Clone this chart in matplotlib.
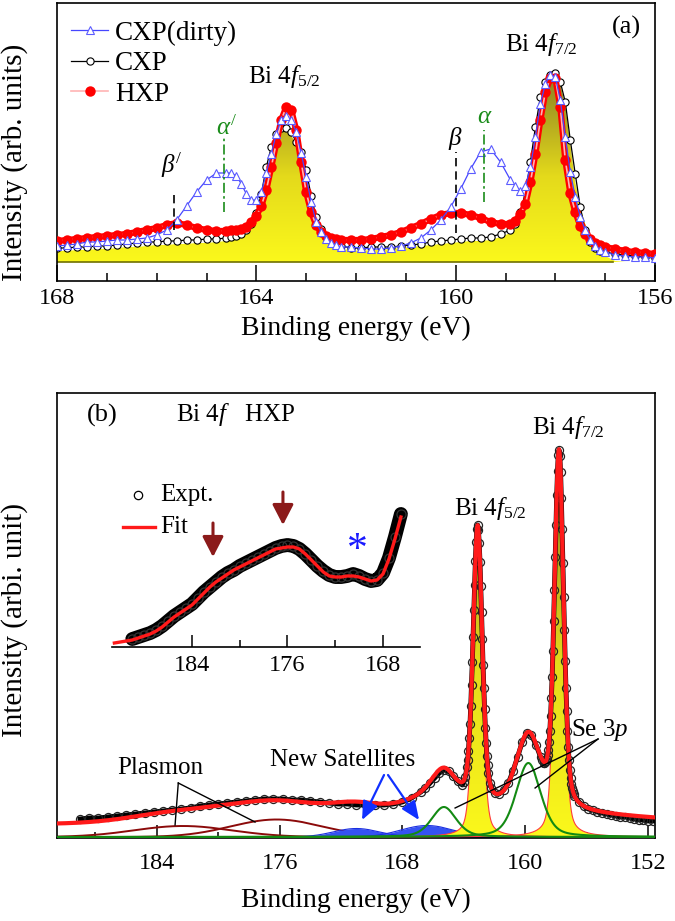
import numpy as np
import matplotlib
matplotlib.use("Agg")
import matplotlib.pyplot as plt
from matplotlib.colors import LinearSegmentedColormap
from matplotlib.patches import Polygon
from matplotlib.ticker import FixedLocator

plt.rcParams['font.family'] = ['Liberation Serif', 'DejaVu Serif']
plt.rcParams['mathtext.fontset'] = 'custom'
plt.rcParams['mathtext.rm'] = 'Liberation Serif'
plt.rcParams['mathtext.it'] = 'Liberation Serif:italic'
plt.rcParams['mathtext.bf'] = 'Liberation Serif:bold'

# ---------------- panel (a) data : Bi 4f, three samples ----------------
energy_a = [168.0, 167.8, 167.6, 167.4, 167.2, 167.0, 166.8, 166.6, 166.4, 166.2, 166.0, 165.8, 165.6, 165.4,
            165.2, 165.0, 164.8, 164.6,
            164.5, 164.4, 164.3, 164.2, 164.1, 164.0, 163.9, 163.8, 163.7, 163.6, 163.5, 163.4, 163.3, 163.2,
            163.1, 163.0, 162.9, 162.8, 162.7, 162.6, 162.5, 162.4, 162.3,
            162.1, 161.9, 161.7, 161.5, 161.3, 161.1, 160.9, 160.7, 160.5, 160.3, 160.1, 159.9, 159.7, 159.5,
            159.3, 159.1, 158.9,
            158.8, 158.7, 158.6, 158.5, 158.4, 158.3, 158.2, 158.1, 158.0, 157.9, 157.8, 157.7, 157.6, 157.5,
            157.4, 157.3, 157.2, 157.1, 157.0,
            156.8, 156.6, 156.4, 156.2, 156.0]
cxp_dirty = [16, 17, 18, 20, 20, 21, 22, 22, 23, 24, 27, 32, 42, 56, 70, 82, 89, 89,
             89, 86, 78, 68, 62, 62, 70, 89, 108, 128, 142, 146, 142, 130, 109, 85, 60, 40, 30, 23, 19, 17, 15,
             15, 14, 13, 13, 14, 16, 19, 24, 32, 42, 55, 73, 93, 110, 113, 100, 82,
             76, 71, 76, 95, 125, 158, 178, 187, 185, 162, 125, 90, 65, 45, 32, 22, 16, 12, 10,
             7, 6, 5, 5, 4]
cxp = [14, 14, 15, 15, 16, 16, 17, 18, 19, 20, 20, 21, 21, 22, 22, 23, 23, 24,
       25, 26, 28, 32, 38, 49, 68, 95, 115, 128, 134, 134, 130, 120, 110, 92, 66, 45, 33, 25, 21, 18, 16,
       14, 14, 15, 15, 15, 16, 17, 18, 20, 21, 22, 23, 24, 24, 25, 28, 32,
       38, 50, 70, 100, 135, 165, 180, 187, 189, 180, 160, 122, 88, 55, 32, 20, 14, 11, 10,
       8, 7, 6, 5, 4]
hxp = [21, 22, 23, 24, 25, 26, 27, 28, 30, 32, 34, 37, 39, 37, 34, 32, 31, 31,
       32, 32, 33, 35, 40, 46, 56, 72, 95, 119, 142, 155, 152, 132, 100, 70, 50, 37, 30, 26, 24, 23, 22,
       22, 22, 23, 25, 27, 30, 34, 38, 43, 47, 49, 49, 47, 44, 40, 38, 38,
       41, 48, 58, 80, 108, 142, 170, 184, 184, 155, 102, 69, 50, 36, 28, 23, 19, 17, 15,
       13, 11, 10, 9, 8]
cxp_fit = [11, 11, 12, 12, 13, 13, 14, 15, 15, 16, 17, 17, 18, 18, 19, 19, 20, 21,
           22, 23, 25, 28, 34, 44, 62, 88, 110, 124, 130, 131, 127, 117, 104, 85, 62, 42, 29, 21, 17, 14, 13,
           12, 11, 12, 12, 13, 14, 15, 16, 17, 18, 19, 20, 21, 21, 22, 25, 29,
           35, 47, 67, 97, 132, 162, 178, 185, 187, 178, 157, 118, 80, 55, 38, 27, 18, 11, 6,
           1, 0, 0, 0, 0]
for _s in (cxp_dirty, cxp, hxp, cxp_fit):
    assert len(_s) == len(energy_a), (len(_s), len(energy_a))

# ---------------- panel (b) data : HXP, experiment ----------------
expt_b_points = [
    (189.0, 18), (188.4, 19), (187.8, 19), (187.2, 20), (186.6, 21), (186.0, 22), (185.4, 23), (184.8, 24),
    (184.2, 25), (183.6, 26), (183.0, 27), (182.4, 28), (181.8, 29), (181.2, 31), (180.6, 32), (180.0, 33),
    (179.4, 34), (178.8, 35), (178.2, 36), (177.6, 37), (177.0, 38), (176.4, 38), (175.8, 38), (175.2, 37),
    (174.6, 37), (174.0, 36), (173.4, 35), (172.8, 34), (172.2, 33), (171.6, 33), (171.0, 32), (170.4, 32),
    (169.8, 32), (169.2, 32), (168.6, 33), (168.0, 35), (167.4, 39), (166.8, 45),
    (166.5, 49), (166.2, 54), (165.9, 59), (165.6, 64), (165.3, 67), (165.0, 66), (164.7, 61), (164.4, 56),
    (164.1, 52), (164.0, 55), (163.9, 60), (163.8, 70), (163.75, 77), (163.7, 86), (163.65, 99), (163.6, 113),
    (163.55, 131), (163.5, 152), (163.45, 175), (163.4, 200), (163.35, 227), (163.3, 252), (163.25, 276),
    (163.2, 295), (163.15, 308), (163.1, 312), (163.05, 307), (163.0, 294), (162.95, 275), (162.9, 251),
    (162.85, 225), (162.8, 198), (162.75, 172), (162.7, 149), (162.65, 128), (162.6, 109), (162.55, 94),
    (162.5, 81), (162.45, 72), (162.4, 64), (162.3, 54), (162.2, 49), (162.0, 44), (161.7, 43), (161.4, 47),
    (161.1, 54), (160.8, 66), (160.5, 80), (160.2, 95), (159.9, 104), (159.6, 102), (159.3, 92), (159.0, 80),
    (158.9, 77), (158.8, 74), (158.75, 74), (158.7, 75), (158.65, 76), (158.6, 78), (158.55, 82), (158.5, 87),
    (158.45, 95), (158.4, 106), (158.35, 121), (158.3, 139), (158.25, 160), (158.2, 186), (158.15, 216),
    (158.1, 247), (158.05, 280), (158.0, 312), (157.95, 342), (157.9, 366), (157.85, 382), (157.8, 387),
    (157.75, 381), (157.7, 365), (157.65, 339), (157.6, 308), (157.55, 274), (157.5, 240), (157.45, 207),
    (157.4, 176), (157.35, 149), (157.3, 126), (157.25, 106), (157.2, 90), (157.15, 77), (157.1, 67),
    (157.05, 59), (157.0, 53), (156.95, 49), (156.9, 46), (156.85, 43), (156.8, 41), (156.5, 35), (156.2, 31),
    (155.9, 28), (155.6, 27), (155.3, 25), (155.0, 24), (154.7, 23), (154.4, 22), (154.1, 21), (153.8, 20),
    (153.5, 20), (153.2, 19), (152.9, 18), (152.6, 17), (152.3, 17), (152.0, 16), (151.7, 16)]
energy_b = [p[0] for p in expt_b_points]
expt_b = [p[1] for p in expt_b_points]

# fit components (pseudo-Voigt parameters)
comp_labels = ['Plasmon 1', 'Plasmon 2', 'Satellite 1', 'Satellite 2', 'Se 3p1/2', 'Se 3p3/2',
               'Bi 4f5/2', 'Bi 4f7/2']
comp_kind = ['plasmon', 'plasmon', 'satellite', 'satellite', 'se', 'se', 'bi', 'bi']
comp_center = [182.3, 176.2, 171.0, 166.4, 165.3, 159.8, 163.1, 157.8]
comp_height = [11.0, 17.5, 8.5, 11.5, 30.0, 74.0, 278.0, 355.0]
comp_fwhm = [7.5, 7.0, 3.5, 4.0, 1.9, 1.9, 0.7, 0.7]
comp_eta = [0.0, 0.0, 0.0, 0.0, 0.4, 0.4, 0.35, 0.35]
bg_const = 13.0
bg_broad = [163.0, 14.0, 20.0]   # center, height, fwhm of broad inelastic background

# ---------------- inset data ----------------
inset_fit_energy = [190.5, 190.0, 189.5, 189.0, 188.5, 188.0, 187.5, 187.0, 186.5, 186.0,
                    185.5, 185.0, 184.5, 184.0, 183.5, 183.0, 182.5, 182.0, 181.5, 181.0,
                    180.5, 180.0, 179.5, 179.0, 178.5, 178.0, 177.5, 177.0, 176.5, 176.0,
                    175.5, 175.0, 174.5, 174.0, 173.5, 173.0, 172.5, 172.0, 171.5, 171.0,
                    170.5, 170.0, 169.5, 169.0, 168.5, 168.0, 167.5, 167.0, 166.5]
inset_fit = [4, 5, 6, 7, 9, 11, 13, 16, 20, 25,
             30, 34, 38, 42, 48, 54, 60, 65, 69, 73,
             77, 80, 83, 86, 89, 92, 95, 98, 99, 100,
             100, 98, 93, 87, 81, 75, 71, 70, 70, 71,
             71, 70, 68, 66, 67, 73, 88, 108, 130]
inset_expt_energy = inset_fit_energy[3:]
inset_expt = [8, 10, 12, 14, 17, 21, 26, 31, 35, 39,
              43, 49, 55, 60, 65, 70, 74, 77, 81, 84,
              87, 90, 93, 96, 99, 101, 102, 101, 98, 93,
              87, 81, 76, 72, 70, 70, 71, 73, 71, 68,
              66, 67, 74, 89, 110, 133]
assert len(inset_fit) == len(inset_fit_energy)
assert len(inset_expt) == len(inset_expt_energy)

# ---------------- helpers ----------------
W, H = 675, 921
fig = plt.figure(figsize=(W / 100, H / 100), dpi=100)


def px_axes(x0, y0, x1, y1):
    return fig.add_axes([x0 / W, 1 - y1 / H, (x1 - x0) / W, (y1 - y0) / H])


def pseudo_voigt(e, c, h, w, eta):
    d = (e - c) / w
    return h * (eta / (1 + 4 * d ** 2) + (1 - eta) * np.exp(-4 * np.log(2) * d ** 2))


yellow_cmap = LinearSegmentedColormap.from_list(
    'yl', [(0.0, '#fbf81c'), (0.45, '#e4da1b'), (1.0, '#877c24')])


def gradient_fill(ax, x, y, top, zorder):
    x = np.asarray(x, float)
    y = np.asarray(y, float)
    verts = np.column_stack([np.r_[x, x[::-1]], np.r_[y, np.zeros_like(y)]])
    poly = Polygon(verts, closed=True, facecolor='none', edgecolor='none')
    ax.add_patch(poly)
    grad = np.linspace(0, 1, 256).reshape(-1, 1)
    im = ax.imshow(grad, cmap=yellow_cmap, aspect='auto', origin='lower',
                   extent=[x.min(), x.max(), 0, top], zorder=zorder, interpolation='bilinear')
    im.set_clip_path(poly)


def style_axes(ax, lw=1.2):
    for s in ax.spines.values():
        s.set_linewidth(lw)


BLUE_LINE = '#4646ff'
BLUE_MARK = '#5c5cff'
GREEN = '#1a8c1a'
TXT = 18
TICK = 17.5

# ================= panel (a) =================
axA = px_axes(57, 3, 655, 281)
style_axes(axA)
gradient_fill(axA, energy_a, cxp_fit, 190, zorder=1)
axA.plot([168.0, 156.84], [0, 0], color='#707000', lw=1.2, zorder=1.5)
hC, = axA.plot(energy_a, cxp, color='black', lw=0.9, marker='o', ms=5.2, mfc='white', mec='black',
               mew=0.8, zorder=2, label='CXP')
axA.plot(energy_a, hxp, color='#ff0000', lw=4.5, zorder=2.9, alpha=1.0)
hH, = axA.plot(energy_a, hxp, color='#ffb4b4', lw=1.2, marker='o', ms=7.5, mfc='#ff0000',
               mec='#ff0000', mew=0, zorder=3, label='HXP')
hD, = axA.plot(energy_a, cxp_dirty, color=BLUE_LINE, lw=0.9, marker='^', ms=6.3, mfc='white',
               mec=BLUE_MARK, mew=0.8, zorder=4, label='CXP(dirty)')
leg = axA.legend(handles=[hD, hC, hH], loc='upper left', bbox_to_anchor=(0.0, 0.985), frameon=False,
                 fontsize=19.5, handlelength=1.4, handletextpad=0.25, labelspacing=0.2,
                 borderaxespad=0.1, numpoints=1)

axA.plot([165.65, 165.65], [32, 67], color='black', ls=(0, (5, 3)), lw=1.2, zorder=5)
axA.plot([164.65, 164.65], [50, 124], color=GREEN, ls=(0, (6, 2, 1.5, 2)), lw=1.2, zorder=5)
axA.plot([159.99, 159.99], [29, 110], color='black', ls=(0, (5, 3)), lw=1.2, zorder=5)
axA.plot([159.43, 159.43], [60, 132], color=GREEN, ls=(0, (6, 2, 1.5, 2)), lw=1.2, zorder=5)
axA.text(165.69, 97, r'$\beta^{/}$', fontsize=TXT, ha='center', va='center', zorder=6)
axA.text(164.60, 134, r'$\alpha^{/}$', fontsize=TXT, ha='center', va='center', color=GREEN, zorder=6)
axA.text(160.01, 124, r'$\beta$', fontsize=TXT, ha='center', va='center', zorder=6)
axA.text(159.41, 145, r'$\alpha$', fontsize=TXT, ha='center', va='center', color=GREEN, zorder=6)
axA.text(163.44, 185, r'Bi 4$\mathit{f}_{\mathit{5/2}}$', fontsize=TXT, ha='center', va='center', zorder=6)
axA.text(158.29, 217, r'Bi 4$\mathit{f}_{\mathit{7/2}}$', fontsize=TXT, ha='center', va='center', zorder=6)
axA.text(156.58, 235, '(a)', fontsize=19, ha='center', va='center', zorder=6)

axA.set_xlim(168, 156)
axA.set_ylim(-19, 259)
axA.xaxis.set_major_locator(FixedLocator([168, 164, 160, 156]))
axA.xaxis.set_minor_locator(FixedLocator([167, 166, 165, 163, 162, 161, 159, 158, 157]))
axA.tick_params(axis='x', which='major', direction='in', length=11.5, width=1.1, labelsize=TICK, pad=5)
axA.tick_params(axis='x', which='minor', direction='in', length=6, width=1.1)
axA.set_yticks([])

# ================= panel (b) =================
axB = px_axes(57, 393, 655, 838)
style_axes(axB)
e_fine = np.linspace(151.55, 190.5, 4000)
comps = [pseudo_voigt(e_fine, c, h, w, eta)
         for c, h, w, eta in zip(comp_center, comp_height, comp_fwhm, comp_eta)]
envelope = bg_const + pseudo_voigt(e_fine, bg_broad[0], bg_broad[1], bg_broad[2], 0.0) + np.sum(comps, axis=0)

for kind, comp in zip(comp_kind, comps):
    if kind == 'plasmon':
        axB.plot(e_fine, comp, color='#8b0a0a', lw=1.4, zorder=2)
    elif kind == 'satellite':
        axB.fill_between(e_fine, 0, comp, color='#3552f2', lw=0, zorder=2)
        axB.plot(e_fine, comp, color='#1a2ee0', lw=0.8, zorder=2.1)
for kind, comp in zip(comp_kind, comps):
    if kind == 'bi':
        gradient_fill(axB, e_fine, comp, 385, zorder=3)
        axB.plot(e_fine, comp, color='#ff3b3b', lw=0.8, zorder=3.1)
for kind, comp in zip(comp_kind, comps):
    if kind == 'se':
        axB.plot(e_fine, comp, color='#138a13', lw=1.5, zorder=3.5)

axB.plot(energy_b, expt_b, color='black', lw=3.5, zorder=4)
axB.plot(energy_b, expt_b, ls='none', marker='o', ms=5.8, mfc='none', mec='#222222', mew=0.9, zorder=4.1)
axB.plot(e_fine, envelope, color='#ff1a1a', lw=3.0, zorder=5)

# annotations (b)
axB.text(187.57, 422, '(b)', fontsize=19, ha='center', va='center')
axB.text(178.9, 422, r'Bi 4$\mathit{f}$   HXP', fontsize=TXT, ha='center', va='center')
axB.text(162.3, 329, r'Bi 4$\mathit{f}_{\mathit{5/2}}$', fontsize=TXT, ha='center', va='center', zorder=6)
axB.text(157.2, 409, r'Bi 4$\mathit{f}_{\mathit{7/2}}$', fontsize=TXT, ha='center', va='center', zorder=6)
axB.text(155.13, 107, r'Se 3$\mathit{p}$', fontsize=TXT, ha='center', va='center', zorder=6)
axB.text(171.87, 77, 'New Satellites', fontsize=TXT, ha='center', va='center', zorder=6)
axB.text(183.79, 69, 'Plasmon', fontsize=TXT, ha='center', va='center', zorder=6)
for xy in [(164.57, 29), (159.36, 49)]:
    axB.plot([155.26, xy[0]], [98, xy[1]], color='black', lw=1.0, zorder=6)
for xy in [(182.81, 12), (177.6, 15)]:
    axB.plot([182.6, xy[0]], [54, xy[1]], color='black', lw=1.0, zorder=6)
for start, end in [((169.2, 62), (170.63, 17)), ((168.94, 62), (166.92, 17))]:
    axB.annotate('', xy=end, xytext=start, zorder=6,
                 arrowprops=dict(arrowstyle='-|>,head_length=0.7,head_width=0.3', color='#1030ff',
                                 lw=1.6, mutation_scale=16, shrinkA=0, shrinkB=0))

axB.set_xlim(190.5, 151.55)
axB.set_ylim(-1, 444)
axB.xaxis.set_major_locator(FixedLocator([184, 176, 168, 160, 152]))
axB.xaxis.set_minor_locator(FixedLocator([188, 180, 172, 164, 156]))
axB.tick_params(axis='x', which='major', direction='in', length=9.5, width=1.1, labelsize=TICK, pad=11)
axB.tick_params(axis='x', which='minor', direction='in', length=4.5, width=1.1)
axB.set_yticks([])

# ================= inset =================
axI = px_axes(112, 487, 420, 647)
axI.patch.set_alpha(0)
for side in ('top', 'left', 'right'):
    axI.spines[side].set_visible(False)
axI.spines['bottom'].set_linewidth(1.2)
axI.plot(inset_expt_energy, inset_expt, color='black', lw=10, zorder=2, solid_capstyle='round')
axI.plot(inset_expt_energy, inset_expt, ls='none', marker='o', ms=6.5, mfc='none', mec='#333333',
         mew=0.9, zorder=2.1)
axI.plot(inset_fit_energy, inset_fit, color='#ff1a1a', lw=2.4, zorder=3)
axI.plot([188.52], [152], ls='none', marker='o', ms=6, mfc='none', mec='black', mew=0.9, clip_on=False)
axI.text(186.68, 152, 'Expt.', fontsize=TXT, va='center', ha='left')
axI.plot([189.78, 187.1], [120, 120], color='#ff1a1a', lw=2.4, clip_on=False)
axI.text(186.68, 120, 'Fit', fontsize=TXT, va='center', ha='left')
for xe, y0, y1 in [(182.24, 124, 90), (176.38, 155, 122)]:
    axI.annotate('', xy=(xe, y1), xytext=(xe, y0),
                 arrowprops=dict(arrowstyle='-|>,head_length=0.62,head_width=0.32', color='#8b1a1a',
                                 lw=2.2, mutation_scale=20, shrinkA=0, shrinkB=0))
axI.text(170.18, 96, '*', fontsize=30, color='#1a1aff', ha='center', va='center')
axI.set_xlim(190.7, 164.9)
axI.set_ylim(0, 160)
axI.xaxis.set_major_locator(FixedLocator([184, 176, 168]))
axI.xaxis.set_minor_locator(FixedLocator([180, 172]))
axI.tick_params(axis='x', which='major', direction='in', length=8.5, width=1.1, labelsize=TICK, pad=6)
axI.tick_params(axis='x', which='minor', direction='in', length=5, width=1.1)
axI.set_yticks([])

# ================= axis labels =================
fig.text(356 / W, 1 - 328 / H, 'Binding energy (eV)', fontsize=20, ha='center', va='center')
fig.text(356 / W, 1 - 900 / H, 'Binding energy (eV)', fontsize=20, ha='center', va='center')
fig.text(15 / W, 1 - 162 / H, 'Intensity (arb. units)', fontsize=21, rotation=90, ha='center', va='center')
fig.text(15 / W, 1 - 620 / H, 'Intensity (arbi. unit)', fontsize=21, rotation=90, ha='center', va='center')

fig.savefig('out.png', dpi=100)
